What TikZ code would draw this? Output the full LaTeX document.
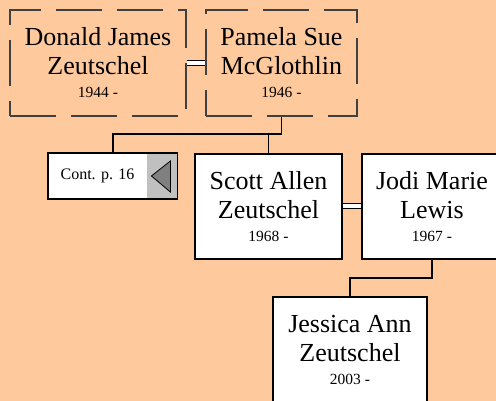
\documentclass[tikz,border=0pt]{standalone}
\usepackage{fontspec}
\setmainfont{Liberation Serif}
\usepackage{xcolor}
\usetikzlibrary{positioning,calc}
\definecolor{peach}{RGB}{255,201,158}
\definecolor{contgrey}{RGB}{192,192,192}
\definecolor{arrowgrey}{RGB}{128,128,128}
\newcommand{\yearline}[1]{\\[-6pt]{\fontsize{15.5}{18}\selectfont #1}}

\begin{document}
\begin{tikzpicture}[x = 1pt, y = -1pt,
    person/.style = {draw, line width = 1.6pt, fill = white, align = center, minimum height = 105, font = \fontsize{26}{29}\selectfont},
    ancestor/.style = {draw = black!75, line width = 1.2pt, dash pattern = on 46pt off 15pt, align = center, minimum height = 106, font = \fontsize{26}{29}\selectfont},
    link/.style = {line width = 1.6pt},
    wed/.style = {double, double distance = 4pt, line width = 1pt}]
    \fill[peach] (0,0) rectangle (496,401);
    \useasboundingbox (0,0) rectangle (496,401);
    \node[ancestor, minimum width = 176] (donald) at (98,63) {Donald James\\Zeutschel\yearline{1944 -}};
    \node[ancestor, minimum width = 151] (pamela) at (281.5,63) {Pamela Sue\\McGlothlin\yearline{1946 -}};
    \node[fill = white, minimum width = 99, minimum height = 46, font = \fontsize{16}{18}\selectfont] (cont) at (97.5,176) {Cont. p. 16};
    \node[fill = contgrey, minimum width = 30, minimum height = 46, right = 0pt of cont] (contarrow) {};
    \draw[line width = 1.6pt] (cont.north west) rectangle (contarrow.south east);
    \draw[fill = arrowgrey, line width = .8pt] ([xshift = -11pt]contarrow.center) -- ([xshift = 8pt, yshift = 15pt]contarrow.center) -- ([xshift = 8pt, yshift = -16pt]contarrow.center) -- cycle;
    \node[person, minimum width = 147] (scott) at (268.5,206.5) {Scott Allen\\Zeutschel\yearline{1968 -}};
    \node[person, minimum width = 140] (jodi) at (432,206.5) {Jodi Marie\\Lewis\yearline{1967 -}};
    \node[person, minimum width = 154] (jessica) at (350,349.5) {Jessica Ann\\Zeutschel\yearline{2003 -}};
    % marriages
    \draw[wed] (donald) -- (pamela);
    \draw[wed] (scott) -- (jodi);
    % children
    \coordinate (conttop) at ($(cont.north west)!.5!(contarrow.north east)$);
    \coordinate (sibs) at (pamela.south |- 0,134);
    \draw[link] (pamela.south) -- (sibs) -| (conttop);
    \draw[link] (scott.north) -- (scott.north |- sibs);
    \coordinate (kids) at (jodi.south |- 0,278);
    \draw[link] (jodi.south) -- (kids) -| (jessica.north);
\end{tikzpicture}
\end{document}
